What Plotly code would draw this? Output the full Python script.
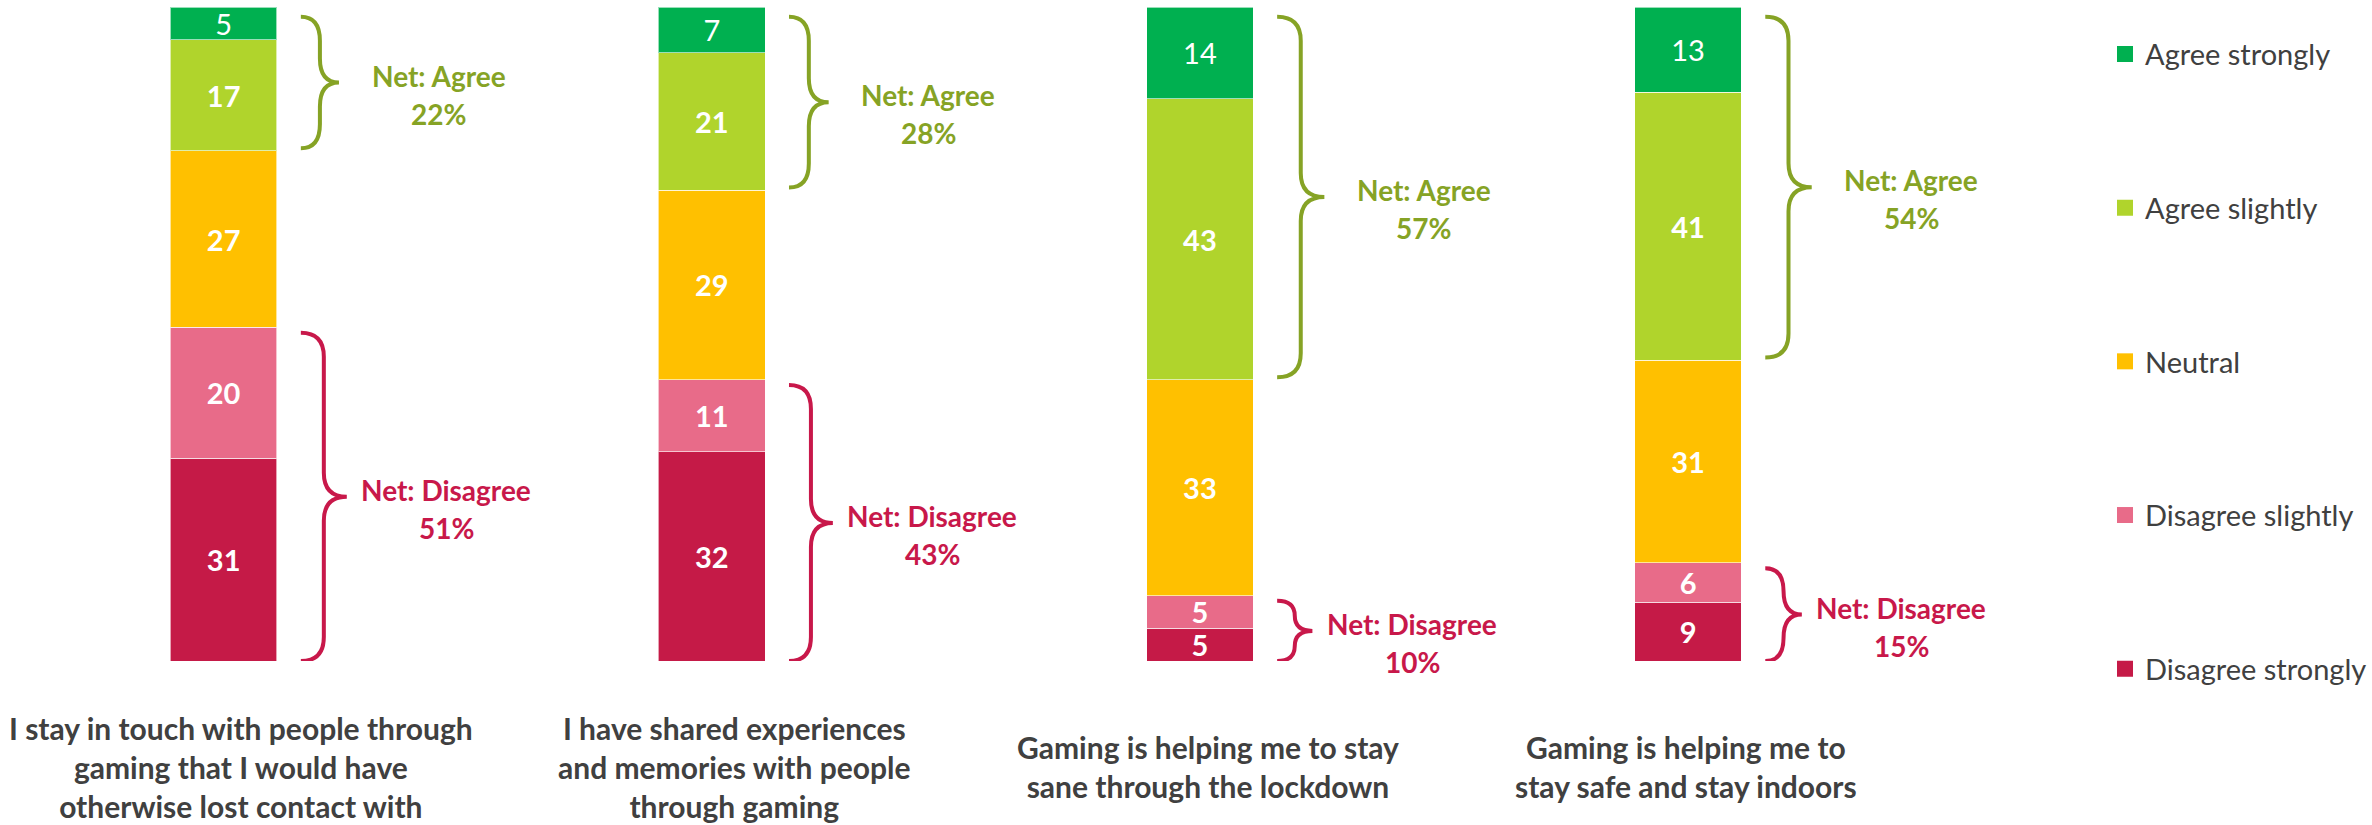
import plotly.graph_objects as go

# ---------------- data ----------------
categories = [
    "I stay in touch with people through<br>gaming that I would have<br>otherwise lost contact with",
    "I have shared experiences<br>and memories with people<br>through gaming",
    "Gaming is helping me to stay<br>sane through the lockdown",
    "Gaming is helping me to<br>stay safe and stay indoors",
]
disagree_strongly = [31, 32, 5, 9]
disagree_slightly = [20, 11, 5, 6]
neutral = [27, 29, 33, 31]
agree_slightly = [17, 21, 43, 41]
agree_strongly = [5, 7, 14, 13]

series_names = ["Disagree strongly", "Disagree slightly", "Neutral", "Agree slightly", "Agree strongly"]
series_values = [disagree_strongly, disagree_slightly, neutral, agree_slightly, agree_strongly]
series_colors = ["#C51A47", "#E86B89", "#FFC000", "#B0D42C", "#00B050"]
series_weights = ["bold", "bold", "bold", "bold", "normal"]

# ---------------- layout constants ----------------
W, H = 2372, 825
M_T, M_B = 7, 164
PLOT_H = H - M_T - M_B
PX_PER_CAT = 490.0
X0 = -224.5 / PX_PER_CAT
X1 = X0 + W / PX_PER_CAT
PX_X = PX_PER_CAT
PX_Y = PLOT_H / 100.0
BW = 107 / PX_PER_CAT
FONT = "Lato"
GREY = "#404040"
AGREE_C = "#86A325"
DIS_C = "#C8184A"

xs = list(range(len(categories)))

fig = go.Figure()
for name, vals, col, wt in zip(series_names, series_values, series_colors, series_weights):
    fig.add_trace(go.Bar(
        x=xs, y=vals, name=name, width=BW,
        marker=dict(color=col, line=dict(color="rgba(255,255,255,0.6)", width=1)),
        text=[str(v) for v in vals], textposition="inside", insidetextanchor="middle",
        textangle=0,
        textfont=dict(color="white", size=29, family=FONT, weight=wt),
        showlegend=False, hoverinfo="skip",
    ))

# legend entries (top to bottom: Agree strongly ... Disagree strongly)
for name, col in zip(series_names[::-1], series_colors[::-1]):
    fig.add_trace(go.Scatter(
        x=[None], y=[None], mode="markers", name=name, legendgroup=name,
        marker=dict(symbol="square", size=18, color=col, line=dict(width=0)),
        hoverinfo="skip",
    ))

shapes = []
annotations = []


def brace(xc, ya, yb, color, top_inset, bot_inset, title, pct):
    ya = ya + bot_inset
    yb = yb - top_inset
    h_px = (yb - ya) * PX_Y
    w = 33 + 0.04 * h_px
    right = xc + BW / 2
    x_end = right + 24 / PX_X
    x_mid = x_end + 0.5 * w / PX_X
    x_tip = x_end + w / PX_X
    r = min(24.0, h_px / 4) / PX_Y
    ym = (ya + yb) / 2
    path = (f"M {x_end},{yb} Q {x_mid},{yb} {x_mid},{yb - r} L {x_mid},{ym + r} "
            f"Q {x_mid},{ym} {x_tip},{ym} Q {x_mid},{ym} {x_mid},{ym - r} "
            f"L {x_mid},{ya + r} Q {x_mid},{ya} {x_end},{ya}")
    shapes.append(dict(type="path", path=path, xref="x", yref="y",
                       line=dict(color=color, width=4)))
    tx = x_tip + 100 / PX_X
    annotations.append(dict(x=tx, y=ym, xref="x", yref="y", text=title, showarrow=False,
                            yshift=7, xanchor="center", yanchor="middle",
                            font=dict(family=FONT, size=28, color=color, weight="bold")))
    annotations.append(dict(x=tx, y=ym, xref="x", yref="y", text=f"{pct}%", showarrow=False,
                            yshift=-31, xanchor="center", yanchor="middle",
                            font=dict(family=FONT, size=28, color=color, weight="bold")))


for i in xs:
    net_dis = disagree_strongly[i] + disagree_slightly[i]
    net_agr = agree_slightly[i] + agree_strongly[i]
    top = net_dis + neutral[i] + net_agr
    brace(i, top - net_agr, top, AGREE_C, 1.5, 0.4, "Net: Agree", net_agr)
    brace(i, 0, net_dis, DIS_C, 0.8, 0.0, "Net: Disagree", net_dis)

label_xshift = [17, 23, 8, -2]
for i, c in enumerate(categories):
    annotations.append(dict(x=i, y=-0.162, xref="x", yref="paper", text=c, showarrow=False,
                            xshift=label_xshift[i], xanchor="center", yanchor="middle", align="center",
                            font=dict(family=FONT, size=30, color=GREY, weight="bold")))

fig.update_layout(
    width=W, height=H, autosize=False,
    margin=dict(l=0, r=0, t=M_T, b=M_B, pad=0),
    barmode="stack",
    paper_bgcolor="white", plot_bgcolor="rgba(0,0,0,0)",
    xaxis=dict(range=[X0, X1], visible=False, fixedrange=True),
    yaxis=dict(range=[0, 100], visible=False, fixedrange=True),
    shapes=shapes, annotations=annotations,
    uniformtext=dict(minsize=29, mode="show"),
    showlegend=True,
    legend=dict(x=0.891, y=0.967, xanchor="left", yanchor="top",
                traceorder="grouped", tracegroupgap=113, itemsizing="trace",
                maxheight=820,
                font=dict(family=FONT, size=29, color=GREY),
                bgcolor="rgba(0,0,0,0)", itemclick=False, itemdoubleclick=False),
)

fig.write_html("out.html", config={"displayModeBar": False})
